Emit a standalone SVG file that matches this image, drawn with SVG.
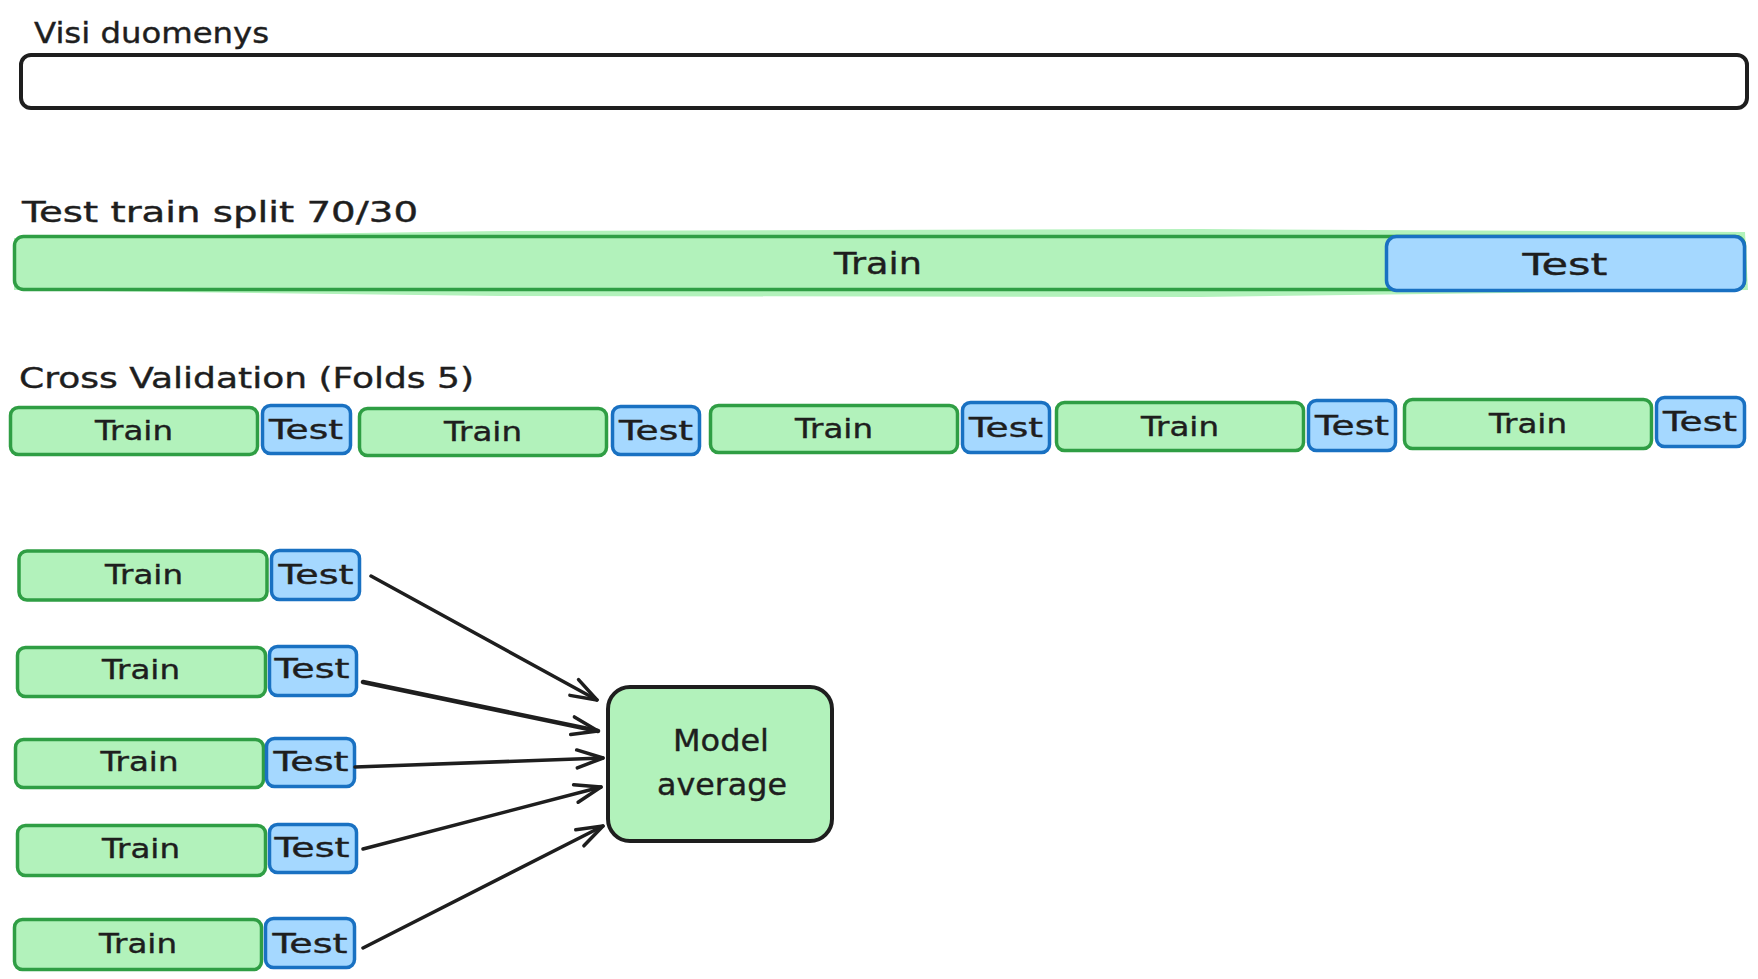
<svg xmlns="http://www.w3.org/2000/svg" width="1758" height="979" viewBox="0 0 1758 979">
  <style>
    .txt { font-family: "DejaVu Sans", "Liberation Sans", sans-serif; fill: #1e1e1e; stroke: #1e1e1e; stroke-width: 0.4; }
    .title { font-size: 29px; }
    .lbl { font-size: 26px; text-anchor: middle; }
    .big { font-size: 31px; text-anchor: middle; }
    .train { fill: #b2f2bb; stroke: #2f9e44; stroke-width: 3.5; }
    .test { fill: #a5d8ff; stroke: #1971c2; stroke-width: 3.5; }
    .plain { fill: #ffffff; stroke: #1e1e1e; stroke-width: 4; }
    .model { fill: #b2f2bb; stroke: #1e1e1e; stroke-width: 4; }
    .conn { fill: none; stroke: #1e1e1e; stroke-width: 3.5; stroke-linecap: round; marker-end: url(#chevron); }
  </style>
  <defs>
    <marker id="chevron" markerUnits="userSpaceOnUse" viewBox="-30 -12 32 24" markerWidth="32" markerHeight="24" refX="0" refY="0" orient="auto" overflow="visible">
      <path d="M -26 -9 L 0 0 L -26 9" fill="none" stroke="#1e1e1e" stroke-width="3.5" stroke-linecap="round" stroke-linejoin="round"/>
    </marker>
  </defs>
  <rect width="1758" height="979" fill="#ffffff"/>

  <!-- whole dataset -->
  <g id="all-data">
    <text class="txt title" x="34" y="43" textLength="235" lengthAdjust="spacingAndGlyphs">Visi duomenys</text>
    <rect class="plain" x="21" y="55" width="1726" height="53" rx="10"/>
  </g>

  <!-- 70/30 split -->
  <g id="split">
    <text class="txt title" x="22" y="222" textLength="396" lengthAdjust="spacingAndGlyphs">Test train split 70/30</text>
    <polygon points="14,238 500,231 1200,229 1745,232 1748,290 1200,297 500,296 14,290" fill="#b2f2bb"/>
    <g id="split-train">
      <rect class="train" x="14.5" y="236.5" width="1730" height="53" rx="9"/>
      <text class="txt big" x="878" y="274" textLength="88" lengthAdjust="spacingAndGlyphs">Train</text>
    </g>
    <g id="split-test">
      <rect class="test" x="1386.5" y="236.5" width="358" height="54" rx="10"/>
      <text class="txt big" x="1565" y="275" textLength="85" lengthAdjust="spacingAndGlyphs">Test</text>
    </g>
  </g>

  <!-- cross validation row -->
  <g id="cv">
    <text class="txt title" x="19" y="388" textLength="455" lengthAdjust="spacingAndGlyphs">Cross Validation (Folds 5)</text>
    <g id="cv-train-1"><rect class="train" x="10.5" y="407.5" width="247" height="47" rx="8"/><text class="txt lbl" x="134" y="440" textLength="78" lengthAdjust="spacingAndGlyphs">Train</text></g>
    <g id="cv-test-1"><rect class="test" x="262.5" y="405.5" width="88" height="48" rx="8"/><text class="txt lbl" x="306" y="439" textLength="74" lengthAdjust="spacingAndGlyphs">Test</text></g>
    <g id="cv-train-2"><rect class="train" x="359.5" y="408.5" width="247" height="47" rx="8"/><text class="txt lbl" x="483" y="441" textLength="78" lengthAdjust="spacingAndGlyphs">Train</text></g>
    <g id="cv-test-2"><rect class="test" x="612.5" y="406.5" width="87" height="48" rx="8"/><text class="txt lbl" x="656" y="440" textLength="74" lengthAdjust="spacingAndGlyphs">Test</text></g>
    <g id="cv-train-3"><rect class="train" x="710.5" y="405.5" width="247" height="47" rx="8"/><text class="txt lbl" x="834" y="438" textLength="78" lengthAdjust="spacingAndGlyphs">Train</text></g>
    <g id="cv-test-3"><rect class="test" x="962.5" y="402.5" width="87" height="50" rx="8"/><text class="txt lbl" x="1006" y="437" textLength="74" lengthAdjust="spacingAndGlyphs">Test</text></g>
    <g id="cv-train-4"><rect class="train" x="1056.5" y="402.5" width="247" height="48" rx="8"/><text class="txt lbl" x="1180" y="436" textLength="78" lengthAdjust="spacingAndGlyphs">Train</text></g>
    <g id="cv-test-4"><rect class="test" x="1308.5" y="400.5" width="87" height="50" rx="8"/><text class="txt lbl" x="1352" y="435" textLength="74" lengthAdjust="spacingAndGlyphs">Test</text></g>
    <g id="cv-train-5"><rect class="train" x="1404.5" y="399.5" width="247" height="49" rx="8"/><text class="txt lbl" x="1528" y="433" textLength="78" lengthAdjust="spacingAndGlyphs">Train</text></g>
    <g id="cv-test-5"><rect class="test" x="1656.5" y="397.5" width="88" height="49" rx="8"/><text class="txt lbl" x="1700" y="431" textLength="74" lengthAdjust="spacingAndGlyphs">Test</text></g>
  </g>

  <!-- per-fold models -->
  <g id="fold-1">
    <rect class="train" x="19" y="551" width="248" height="49" rx="8"/><text class="txt lbl" x="144" y="584" textLength="78" lengthAdjust="spacingAndGlyphs">Train</text>
    <rect class="test" x="271.5" y="550.5" width="88" height="49" rx="8"/><text class="txt lbl" x="316" y="584" textLength="75" lengthAdjust="spacingAndGlyphs">Test</text>
  </g>
  <g id="fold-2">
    <rect class="train" x="17.5" y="647.5" width="248" height="49" rx="8"/><text class="txt lbl" x="141" y="679" textLength="78" lengthAdjust="spacingAndGlyphs">Train</text>
    <rect class="test" x="269.5" y="646.5" width="87" height="49" rx="8"/><text class="txt lbl" x="312" y="678" textLength="75" lengthAdjust="spacingAndGlyphs">Test</text>
  </g>
  <g id="fold-3">
    <rect class="train" x="15.5" y="739.5" width="248" height="48" rx="8"/><text class="txt lbl" x="139.5" y="771" textLength="78" lengthAdjust="spacingAndGlyphs">Train</text>
    <rect class="test" x="266.5" y="738.5" width="88" height="48" rx="8"/><text class="txt lbl" x="311" y="771" textLength="75" lengthAdjust="spacingAndGlyphs">Test</text>
  </g>
  <g id="fold-4">
    <rect class="train" x="17.5" y="825.5" width="248" height="50" rx="8"/><text class="txt lbl" x="141" y="858" textLength="78" lengthAdjust="spacingAndGlyphs">Train</text>
    <rect class="test" x="269.5" y="824.5" width="87" height="48" rx="8"/><text class="txt lbl" x="312" y="857" textLength="75" lengthAdjust="spacingAndGlyphs">Test</text>
  </g>
  <g id="fold-5">
    <rect class="train" x="14.5" y="919.5" width="247" height="50" rx="8"/><text class="txt lbl" x="138" y="953" textLength="78" lengthAdjust="spacingAndGlyphs">Train</text>
    <rect class="test" x="265.5" y="918.5" width="89" height="49" rx="8"/><text class="txt lbl" x="310" y="953" textLength="75" lengthAdjust="spacingAndGlyphs">Test</text>
  </g>

  <!-- aggregation -->
  <g id="model-average">
    <rect class="model" x="608" y="687" width="224" height="154" rx="22"/>
    <text class="txt big" x="721" y="751" textLength="96" lengthAdjust="spacingAndGlyphs">Model</text>
    <text class="txt big" x="722" y="795" textLength="130" lengthAdjust="spacingAndGlyphs">average</text>
  </g>

  <g id="connectors">
    <path class="conn" d="M 371 576 L 597 700"/>
    <path class="conn" d="M 363 682 L 598 731" style="stroke-width:4.5"/>
    <path class="conn" d="M 355 767 L 603 758"/>
    <path class="conn" d="M 363 849 L 601 787"/>
    <path class="conn" d="M 363 948 L 603 826"/>
  </g>
</svg>
